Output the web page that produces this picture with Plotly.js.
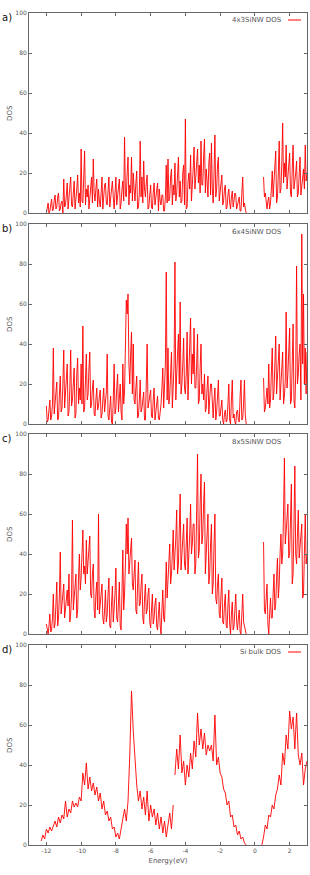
<!DOCTYPE html>
<html><head><meta charset="utf-8">
<script src="https://cdn.plot.ly/plotly-3.0.1.min.js"></script>
<style>html,body{margin:0;padding:0;background:#fff}#c{width:310px;height:875px}</style>
</head><body><div id="c"></div>
<script>
// ---- data (panels a-c: 0.05 eV step, panel d: 0.1 eV step) ----
const stepABC = 0.05, stepD = 0.1;
const startA1 = -12.0, startA2 = 0.5;
const dosA1 = [0,2,5,0,1,4,7,1,2,6, 9,2,3,8,10,1,2,5,6,0, 17,3,4,9,15,2,8,12,18,4, 3,10,16,2,6,12,19,5,10,3,
  32,6,5,20,31,4,12,8,14,2, 8,14,18,5,27,10,6,12,17,3, 12,6,3,10,18,2,9,14,15,5, 4,11,18,3,7,12,16,8,2,10,
  18,4,10,15,17,2,5,12,16,6, 38,9,8,20,28,4,14,10,28,6, 20,12,6,15,21,2,3,10,36,8, 18,5,26,12,8,15,19,2,3,9,
  14,3,2,10,15,4,9,12,15,1, 12,6,4,9,9,1,1,8,24,5, 27,6,8,18,22,4,14,9,25,6, 10,19,28,8,16,5,6,20,24,4,
  47,2,3,15,20,12,29,6,12,22, 33,12,18,26,32,15,24,10,36,14, 14,28,37,10,22,16,8,25,30,9, 35,12,5,20,39,8,12,24,28,6,
  10,15,19,4,6,12,14,2,3,9, 12,5,2,8,11,3,7,10,9,2, 4,7,8,1,1,10,18,3,5,2, 0];
const dosA2 = [18,8,10,3,2,6,8,2,5,12, 21,8,15,26,31,5,8,20,36,10, 12,25,45,15,25,18,34,12,18,24,
  30,10,8,22,34,12,15,20,26,8, 10,18,28,9,14,20,22,12,34,16, 20];

const startB1 = -12.0, startB2 = 0.5;
const dosB1 = [9,1,2,6,12,2,4,10,38,5, 10,18,21,2,3,15,24,6,8,20, 37,8,14,22,30,4,6,18,37,9, 12,20,28,3,5,25,33,10,18,12,
  30,10,49,6,8,22,35,12,15,28, 36,8,10,18,22,5,4,12,18,7, 9,14,17,3,5,12,18,6,10,16, 35,4,2,10,14,1,0,12,30,5,
  8,18,25,6,12,20,6,2,30,10, 16,40,62,55,65,30,20,35,46,15, 40,12,10,18,24,3,4,12,22,6, 8,12,16,2,2,20,40,8,12,15,
  17,4,3,12,18,2,6,10,14,3, 2,6,10,18,28,8,20,30,76,12, 38,10,14,24,36,8,18,30,81,12, 25,35,45,20,61,15,20,30,43,18,
  15,25,46,12,28,38,53,20,35,25, 48,18,18,30,45,10,12,28,40,15, 20,12,25,6,8,18,24,5,14,20, 20,6,3,12,18,2,6,14,22,4,
  4,8,12,2,0,5,7,1,2,10, 20,2,0,12,22,3,5,1,0,6, 7,2,1,14,22,2,3,10,22,4, 0];
const dosB2 = [23,6,8,14,18,10,30,8,12,26, 38,12,16,30,44,15,22,28,40,12, 18,28,36,10,14,22,56,18,25,35,
  48,10,12,30,50,12,8,25,79,20, 25,35,40,12,95,30,65,20,38,15, 36];

const startC1 = -12.0, startC2 = 0.5;
const dosC1 = [5,1,0,4,10,1,2,8,20,3, 5,15,26,4,8,20,41,10,15,22, 25,8,12,18,22,14,30,6,10,20, 57,12,18,22,30,8,12,28,40,22,
  28,40,52,30,34,25,47,30,36,42, 49,20,18,30,35,12,8,20,26,12, 60,10,15,22,25,8,5,12,22,6, 10,20,28,4,3,15,24,6,12,20,
  33,8,6,18,26,4,2,20,42,12, 20,35,55,40,58,30,38,45,48,25, 22,30,37,12,10,25,36,14,15,24, 30,8,5,18,25,10,12,20,23,6,
  3,12,20,5,8,15,18,4,2,10, 16,4,0,12,22,8,6,20,36,18, 28,35,45,25,30,40,52,32,38,48, 62,30,35,55,70,32,40,50,55,35,
  32,45,58,30,38,50,65,40,45,55, 55,30,35,60,90,38,42,65,80,45, 50,65,76,30,38,52,60,25,30,45, 55,20,25,45,60,18,15,25,30,10,
  8,20,28,6,5,15,20,4,3,14, 22,5,0,10,16,2,4,12,20,6, 2,8,12,1,0,10,20,6,4,2, 0];
const dosC2 = [46,12,10,18,25,5,0,10,18,8, 8,20,30,12,15,28,38,18,25,40, 50,35,40,60,88,45,50,58,65,38,
  40,60,75,25,30,55,84,40,35,50, 62,38,45,50,55,18,20,40,60,35, 40];

const startD1 = -12.3, startD2 = -4.6, startD3 = 0.4;
const dosD1 = [2,5,3,8,6,9,7,10,12,9, 14,11,15,13,22,14,18,16,22,19, 21,19,24,22,36,30,41,28,34,27,
  31,25,29,22,26,18,22,15,17,12, 14,8,9,4,6,3,8,14,18,12, 22,45,77,57,40,30,22,27,18,24,
  15,27,12,20,14,18,10,16,8,14, 6,12,4,10,16,8,20];
const dosD2 = [35,48,38,55,36,42,30,40,34,46, 38,52,44,66,50,58,48,56,45,50, 47,50,42,65,40,44,36,34,28,26,
  20,22,14,15,9,10,5,7,3,4,1,0];
const dosD3 = [0,4,10,8,15,14,20,18,25,28, 35,30,46,40,55,48,67,58,64,48, 66,45,40,46,30,38,42];

const xTicks = [-12,-10,-8,-6,-4,-2,0,2];
const yTicks = [0,20,40,60,80,100];
const panelNames = ["4x3SiNW DOS","6x4SiNW DOS","8x5SiNW DOS","Si bulk DOS"];
const panelLetters = ["a)","b)","c)","d)"];

// ---- helpers ----
function energies(start, n, step){ const out=[]; for(let i=0;i<n;i++) out.push(Math.round((start+step*i)*100)/100); return out; }
function join(segs, step){
  const x=[], y=[];
  segs.forEach((s,k)=>{ if(k>0){ x.push(null); y.push(null);} x.push(...energies(s[0], s[1].length, step)); y.push(...s[1]); });
  return {x,y};
}
const series = [
  join([[startA1,dosA1],[startA2,dosA2]], stepABC),
  join([[startB1,dosB1],[startB2,dosB2]], stepABC),
  join([[startC1,dosC1],[startC2,dosC2]], stepABC),
  join([[startD1,dosD1],[startD2,dosD2],[startD3,dosD3]], stepD)
];

const W=310, H=875;
const px = v => v/W, py = v => 1 - v/H;
const tops=[13,224,434,645], bots=[213,424,634,845];
const xl=29, xr=307;

const data=[], layout={width:W,height:H,margin:{l:0,r:0,t:0,b:0},showlegend:false,
  paper_bgcolor:'#fff',plot_bgcolor:'#fff',annotations:[],shapes:[],
  font:{family:'DejaVu Sans, sans-serif',color:'#444'}};
const axColor='#666';
series.forEach((s,i)=>{
  const n = i===0?'':String(i+1);
  data.push({type:'scatter',mode:'lines',x:s.x,y:s.y,xaxis:'x'+n,yaxis:'y'+n,
    line:{color:'#ff0000',width:0.9},connectgaps:false,hoverinfo:'skip'});
  layout['xaxis'+n]={domain:[px(xl),px(xr)],anchor:'y'+n,range:[-13,3],tickvals:xTicks,
    ticktext:xTicks.map(String),showticklabels:i===3,ticks:'inside',ticklen:3,tickcolor:axColor,
    showline:true,linecolor:axColor,linewidth:1,mirror:'ticks',showgrid:false,zeroline:false,
    tickfont:{size:6,color:'#555'}};
  layout['yaxis'+n]={domain:[py(bots[i]),py(tops[i])],anchor:'x'+n,range:[0,100],tickvals:yTicks,
    ticks:'inside',ticklen:3,tickcolor:axColor,showline:true,linecolor:axColor,linewidth:1,
    mirror:'ticks',showgrid:false,zeroline:false,tickfont:{size:6,color:'#555'}};
  layout.annotations.push({xref:'paper',yref:'paper',x:px(10),y:py((tops[i]+bots[i])/2),
    xanchor:'center',yanchor:'middle',text:'DOS',textangle:-90,showarrow:false,font:{size:7,color:'#555'}});
  layout.annotations.push({xref:'paper',yref:'paper',x:px(0),y:py(tops[i]+4),xanchor:'left',yanchor:'middle',
    text:panelLetters[i],showarrow:false,font:{size:10,color:'#111'}});
  const ly = [20,232,442,652][i];
  layout.annotations.push({xref:'paper',yref:'paper',x:px(284),y:py(ly),xanchor:'right',yanchor:'middle',
    text:panelNames[i],showarrow:false,font:{size:7,color:'#555'}});
  if(i===0||i===3){
    layout.shapes.push({type:'line',xref:'paper',yref:'paper',x0:px(288),x1:px(301),y0:py(ly),y1:py(ly),
      line:{color:'#ff0000',width:1}});
  }
});
layout.xaxis4.title={text:'Energy(eV)',font:{size:7,color:'#555'},standoff:4};
Plotly.newPlot('c',data,layout,{displayModeBar:false,staticPlot:true});
</script></body></html>
